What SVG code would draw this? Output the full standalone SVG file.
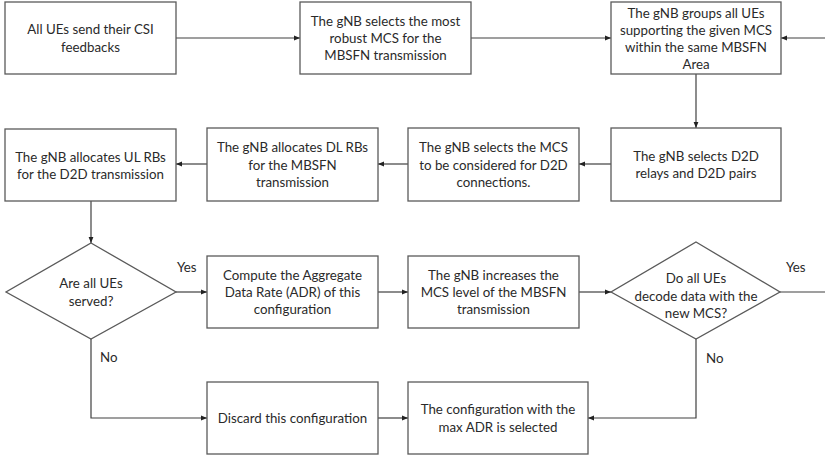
<svg xmlns="http://www.w3.org/2000/svg" width="825" height="459" viewBox="0 0 825 459">
<style>
.box{fill:#fff;stroke:#5a5a5a;stroke-width:1.3}
.ln{fill:none;stroke:#404040;stroke-width:1.2}
.t{font-family:Lato,"Open Sans",sans-serif;font-size:13.3px;fill:#2a2a2a;text-anchor:middle;dominant-baseline:central}
.lbl{font-family:Lato,"Open Sans",sans-serif;font-size:13.3px;fill:#2a2a2a;dominant-baseline:central}
</style>
<defs>
<marker id="ah" viewBox="0 0 10 10" refX="10" refY="5" markerWidth="6" markerHeight="6" orient="auto" markerUnits="userSpaceOnUse">
<path d="M0,1 L10,5 L0,9 Z" fill="#222"/>
</marker>
</defs>
<rect width="825" height="459" fill="#fff"/>
<g id="connectors">
<path class="ln" d="M176,38 H300" marker-end="url(#ah)"/>
<path class="ln" d="M471,38 H611" marker-end="url(#ah)"/>
<path class="ln" d="M825,38 H781" marker-end="url(#ah)"/>
<path class="ln" d="M696,74 V128" marker-end="url(#ah)"/>
<path class="ln" d="M611,164 H579" marker-end="url(#ah)"/>
<path class="ln" d="M408,164 H378" marker-end="url(#ah)"/>
<path class="ln" d="M207,164 H176" marker-end="url(#ah)"/>
<path class="ln" d="M91,201 V243" marker-end="url(#ah)"/>
<path class="ln" d="M176,292 H207" marker-end="url(#ah)"/>
<path class="ln" d="M378,292 H408" marker-end="url(#ah)"/>
<path class="ln" d="M579,292 H611" marker-end="url(#ah)"/>
<path class="ln" d="M780,292 H825"/>
<path class="ln" d="M91,339 V418 H207" marker-end="url(#ah)"/>
<path class="ln" d="M378,418 H408" marker-end="url(#ah)"/>
<path class="ln" d="M696,339 V418 H588" marker-end="url(#ah)"/>
<text class="lbl" x="177" y="267">Yes</text>
<text class="lbl" x="786" y="267">Yes</text>
<text class="lbl" x="100" y="357">No</text>
<text class="lbl" x="706" y="358">No</text>
</g>
<g id="n1"><rect class="box" x="5" y="2" width="171" height="72"/>
<text class="t"><tspan x="90.5" y="29.3">All UEs send their CSI</tspan><tspan x="90.5" y="46.7">feedbacks</tspan></text></g>
<g id="n2"><rect class="box" x="300" y="2" width="171" height="72"/>
<text class="t"><tspan x="385.5" y="20.7">The gNB selects the most</tspan><tspan x="385.5" y="38">robust MCS for the</tspan><tspan x="385.5" y="55.3">MBSFN transmission</tspan></text></g>
<g id="n3"><rect class="box" x="611" y="2" width="170" height="72"/>
<text class="t"><tspan x="696" y="12.5">The gNB groups all UEs</tspan><tspan x="696" y="29.8">supporting the given MCS</tspan><tspan x="696" y="47.1">within the same MBSFN</tspan><tspan x="696" y="64.4">Area</tspan></text></g>
<g id="n4"><rect class="box" x="611" y="128" width="170" height="73"/>
<text class="t"><tspan x="696" y="156">The gNB selects D2D</tspan><tspan x="696" y="173.3">relays and D2D pairs</tspan></text></g>
<g id="n5"><rect class="box" x="408" y="128" width="171" height="73"/>
<text class="t"><tspan x="493.5" y="147.2">The gNB selects the MCS</tspan><tspan x="493.5" y="164.5">to be considered for D2D</tspan><tspan x="493.5" y="181.8">connections.</tspan></text></g>
<g id="n6"><rect class="box" x="207" y="128" width="171" height="73"/>
<text class="t"><tspan x="292.5" y="147.2">The gNB allocates DL RBs</tspan><tspan x="292.5" y="164.5">for the MBSFN</tspan><tspan x="292.5" y="181.8">transmission</tspan></text></g>
<g id="n7"><rect class="box" x="5" y="129" width="171" height="72"/>
<text class="t"><tspan x="90.5" y="156.5">The gNB allocates UL RBs</tspan><tspan x="90.5" y="173.8">for the D2D transmission</tspan></text></g>
<g id="d1"><polygon class="box" points="91,243 176,292 91,339 6,292"/>
<text class="t"><tspan x="91" y="283.3">Are all UEs</tspan><tspan x="91" y="300.6">served?</tspan></text></g>
<g id="n8"><rect class="box" x="207" y="256" width="171" height="72"/>
<text class="t"><tspan x="292.5" y="274.7">Compute the Aggregate</tspan><tspan x="292.5" y="292">Data Rate (ADR) of this</tspan><tspan x="292.5" y="309.3">configuration</tspan></text></g>
<g id="n9"><rect class="box" x="408" y="256" width="171" height="72"/>
<text class="t"><tspan x="493.5" y="274.7">The gNB increases the</tspan><tspan x="493.5" y="292">MCS level of the MBSFN</tspan><tspan x="493.5" y="309.3">transmission</tspan></text></g>
<g id="d2"><polygon class="box" points="696,242 780,292 696,339 611,292"/>
<text class="t"><tspan x="696" y="278">Do all UEs</tspan><tspan x="696" y="295.5">decode data with the</tspan><tspan x="696" y="313">new MCS?</tspan></text></g>
<g id="n10"><rect class="box" x="207" y="382" width="171" height="72"/>
<text class="t"><tspan x="292.5" y="418">Discard this configuration</tspan></text></g>
<g id="n11"><rect class="box" x="408" y="382" width="180" height="72"/>
<text class="t"><tspan x="498" y="409.3">The configuration with the</tspan><tspan x="498" y="426.7">max ADR is selected</tspan></text></g>
</svg>
